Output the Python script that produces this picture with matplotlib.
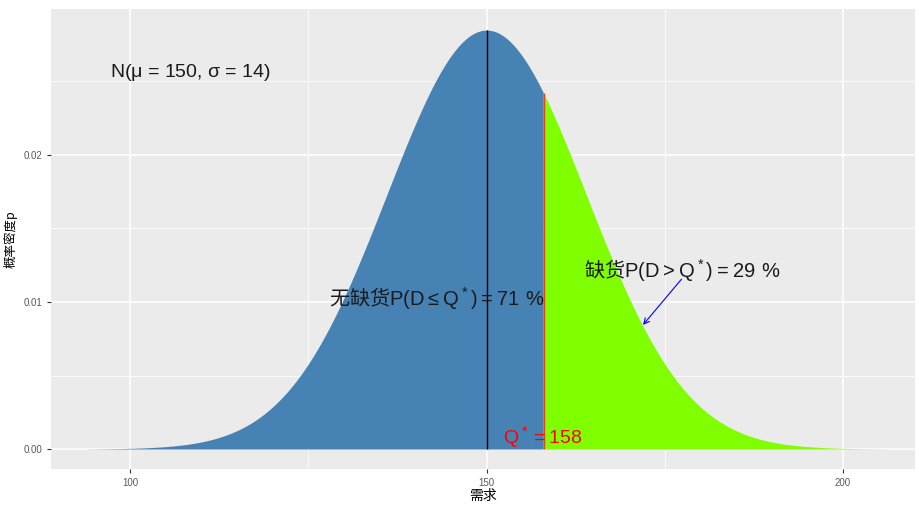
import numpy as np
import matplotlib
matplotlib.use("Agg")
import matplotlib.pyplot as plt

# distribution and order quantity
mu = 150
sigma = 14
q_star = 158
x_lo, x_hi = mu - 4 * sigma, mu + 4 * sigma
x_ticks = [100, 150, 200]
y_ticks = [0.00, 0.01, 0.02]
y_ticklabels = ["0.00", "0.01", "0.02"]

plt.rcParams['font.family'] = ['Liberation Sans', 'Noto Sans CJK SC', 'DejaVu Sans']
plt.rcParams['mathtext.fontset'] = 'custom'
plt.rcParams['mathtext.rm'] = 'Liberation Sans'
plt.rcParams['mathtext.default'] = 'rm'

x = np.linspace(x_lo, x_hi, 600)
pdf = np.exp(-0.5 * ((x - mu) / sigma) ** 2) / (sigma * np.sqrt(2 * np.pi))
peak = 1 / (sigma * np.sqrt(2 * np.pi))
pdf_q = np.exp(-0.5 * ((q_star - mu) / sigma) ** 2) / (sigma * np.sqrt(2 * np.pi))

fig = plt.figure(figsize=(9.19, 5.05), dpi=100)
ax = fig.add_axes([51 / 919, 1 - 469 / 505, 864 / 919, 460 / 505])
ax.set_facecolor('#EBEBEB')
for s in ax.spines.values():
    s.set_visible(False)

ax.set_xticks(x_ticks)
ax.set_xticks([125, 175], minor=True)
ax.set_yticks(y_ticks)
ax.set_yticklabels(y_ticklabels)
ax.set_yticks([0.005, 0.015, 0.025], minor=True)
ax.grid(which='major', color='white', lw=1.1)
ax.grid(which='minor', color='white', lw=0.55)
ax.set_axisbelow(True)
ax.tick_params(which='major', length=3, color='#333333', labelsize=7, labelcolor='#5A5A5A', width=0.8)
ax.tick_params(which='minor', length=0)

left = x <= q_star
ax.fill_between(x[left], 0, pdf[left], color='#4682B4', lw=0)
ax.fill_between(x[~left], 0, pdf[~left], color='#7FFF00', lw=0)
ax.fill_between([q_star, q_star + 0.01], 0, pdf_q, color='#7FFF00', lw=0)
ax.vlines(mu, 0, peak, color='black', lw=1)
ax.vlines(q_star, 0, pdf_q, color='#E8401C', lw=1)

txt = '#1A1A1A'
ax.text(108.5, 0.0256, r'N($\mu$ = 150, $\sigma$ = 14)', fontsize=14, ha='center', va='center', color=txt)
ax.text(143.1, 0.0103, r'无缺货$P(D \leq Q^*)=71\ \%$', fontsize=14.5, ha='center', va='center',
        family=['Noto Sans CJK SC', 'DejaVu Sans'], color=txt)
ax.text(177.5, 0.0122, r'缺货$P(D > Q^*)=29\ \%$', fontsize=14.5, ha='center', va='center',
        family=['Noto Sans CJK SC', 'DejaVu Sans'], color=txt)
ax.text(157.8, 0.0008, r'$Q^*=158$', fontsize=14, color='red', ha='center', va='center')
ax.annotate('', xy=(171.7, 0.0083), xytext=(177.6, 0.0117),
            arrowprops=dict(arrowstyle='->', color='blue', lw=0.8))

ax.set_xlim(88.9, 210.1)
ax.set_ylim(-0.00136, 0.02993)
ax.set_xlabel('需求', fontsize=10, family=['Noto Sans CJK SC'], labelpad=1)
ax.set_ylabel('概率密度p', fontsize=9, family=['Noto Sans CJK SC'], labelpad=4)

fig.savefig('out.png', dpi=100)
